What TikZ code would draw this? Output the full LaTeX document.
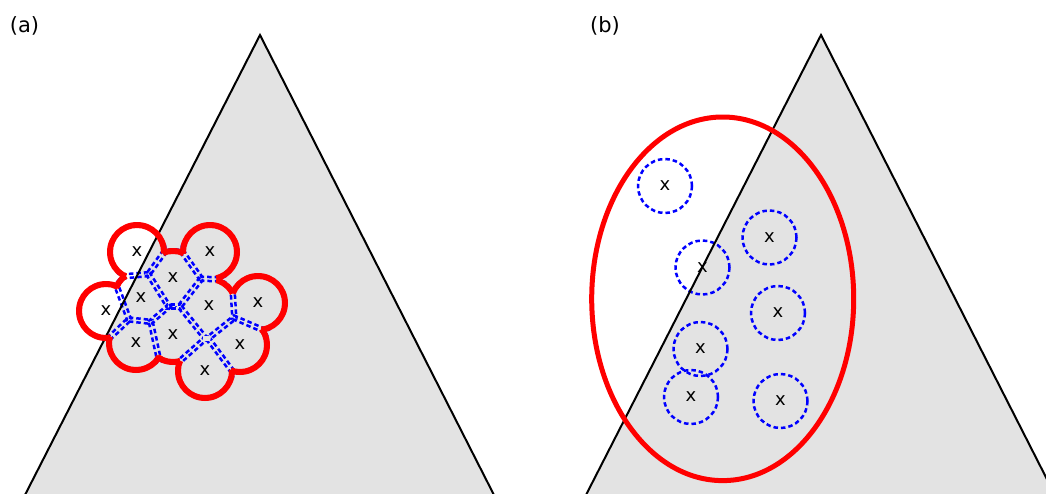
\documentclass[tikz,border=0pt]{standalone}
\usepackage{fontspec}
\setmainfont{DejaVu Sans}
\usetikzlibrary{calc}
\definecolor{trigray}{RGB}{227,227,227}
\definecolor{cblue}{RGB}{0,0,255}
\definecolor{cred}{RGB}{255,0,0}
\def\PX{{137,210,173,141,209,258,106,173,136,240,205}}
\def\PY{{252,252,278,298,306,303,311,335,343,345,371}}
\begin{document}
\begin{tikzpicture}[x=1pt,y=-1pt,
  tri/.style={fill=trigray},
  edge/.style={draw=black,line width=2pt,line join=miter},
  oval/.style={draw=cred,line width=5pt},
  ring/.style={draw=cblue,line width=2.5pt,dash pattern=on 4.5pt off 3pt},
  lab/.style={font=\fontsize{18}{21}\selectfont,inner sep=0pt},
  ttl/.style={font=\fontsize{21}{25}\selectfont,inner sep=0pt}]
\useasboundingbox (0,0) rectangle (1046,493);
\clip (0,0) rectangle (1046,493);
% triangles
\coordinate (A1) at (260,35);
\coordinate (L1) at (12.2,520);
\coordinate (R1) at (506.7,520);
\coordinate (A2) at (821,35);
\coordinate (L2) at (573.2,520);
\coordinate (R2) at (1067.7,520);
\fill[tri] (A1) -- (R1) -- (L1) -- cycle;
\fill[tri] (A2) -- (R2) -- (L2) -- cycle;
% points of panel (a)
\foreach \i in {1,...,11}{
  \pgfmathtruncatemacro\ii{\i-1}
  \pgfmathsetmacro\xx{\PX[\ii]}
  \pgfmathsetmacro\yy{\PY[\ii]}
  \coordinate (p\i) at (\xx,\yy);
}
% points of panel (b)
\coordinate (q1) at (665,186);
\coordinate (q2) at (702.5,267.5);
\coordinate (q3) at (769.5,237.5);
\coordinate (q4) at (778,313);
\coordinate (q5) at (700.5,349);
\coordinate (q6) at (691,397);
\coordinate (q7) at (780.5,401);
% panel (a): dashed cell borders (Voronoi cells inside the blob)
\foreach \i in {1,...,11}{
  \begin{scope}
    \clip (p\i) circle[radius=30pt];
    \foreach \k in {1,...,11}{
      \ifnum\k=\i\relax\else
        \coordinate (m) at ($(p\i)!0.5!(p\k)$);
        \coordinate (ha) at ($(m)!300pt!90:(p\i)$);
        \coordinate (hb) at ($(m)!300pt!-90:(p\i)$);
        \coordinate (he) at ($(m)!300pt!(p\i)$);
        \clip (ha) -- (hb) -- ($(hb)+(he)-(m)$) -- ($(ha)+(he)-(m)$) -- cycle;
      \fi
    }
    \foreach \j in {1,...,11}{
      \ifnum\j=\i\relax\else
        \coordinate (m0) at ($(p\i)!0.5!(p\j)$);
        \coordinate (m) at ($(m0)!2pt!(p\i)$);
        \draw[ring] ($(m)!100pt!90:(p\i)$) -- ($(m)!100pt!-90:(p\i)$);
      \fi
    }
  \end{scope}
}
% panel (b): dashed circles
\foreach \i in {1,...,7}{
  \draw[ring] (q\i) circle[radius=27pt];
}
% labels
\foreach \i in {1,...,11}{
  \node[lab] (xa\i) at (p\i) {x};
}
\foreach \i in {1,...,7}{
  \node[lab] (xb\i) at (q\i) {x};
}
% triangle edges
\draw[edge] (L1) -- (A1) -- (R1);
\draw[edge] (L2) -- (A2) -- (R2);
% red band round the blob of panel (a)
\begin{scope}[even odd rule]
  \foreach \i in {1,...,11}{
    \clip (-20,-20) rectangle (1100,600) (p\i) circle[radius=24pt];
  }
  \clip (-20,-20) rectangle (1100,600)
    (p1) -- (p3) -- (p2) -- (p5) -- (p6) -- (p10) -- (p11) -- (p8) -- (p9) -- (p7) -- (p4) -- cycle;
  \foreach \i in {1,...,10}{
    \pgfmathtruncatemacro\ip{\i+1}
    \foreach \j in {\ip,...,11}{
      \pgfmathtruncatemacro\ii{\i-1}
      \pgfmathtruncatemacro\jj{\j-1}
      \pgfmathsetmacro\xa{\PX[\ii]}
      \pgfmathsetmacro\ya{\PY[\ii]}
      \pgfmathsetmacro\xb{\PX[\jj]}
      \pgfmathsetmacro\yb{\PY[\jj]}
      \pgfmathsetmacro\dx{(\xb-\xa)/10}
      \pgfmathsetmacro\dy{(\yb-\ya)/10}
      \pgfmathsetmacro\dd{10*sqrt(\dx*\dx+\dy*\dy)}
      \pgfmathtruncatemacro\ok{\dd<58.3}
      \ifnum\ok=1
        \pgfmathsetmacro\hh{sqrt(900-\dd*\dd/4)-6}
        \pgfmathsetmacro\mx{(\xa+\xb)/2}
        \pgfmathsetmacro\my{(\ya+\yb)/2}
        \pgfmathsetmacro\vx{-1*(\dy)*10/\dd*\hh}
        \pgfmathsetmacro\vy{(\dx)*10/\dd*\hh}
        \pgfmathsetmacro\ax{\mx+\vx}
        \pgfmathsetmacro\ay{\my+\vy}
        \pgfmathsetmacro\bx{\mx-\vx}
        \pgfmathsetmacro\by{\my-\vy}
        \clip (-20,-20) rectangle (1100,600) (p\i) -- (\ax,\ay) -- (p\j) -- (\bx,\by) -- cycle;
      \fi
    }
  }
  \foreach \i in {1,...,11}{
    \fill[cred] (p\i) circle[radius=30pt];
  }
\end{scope}
% red ellipse of panel (b)
\draw[oval] (722.7,298.8) ellipse[x radius=131pt,y radius=181.8pt];
% titles
\node[ttl] (ta) at (24.5,25.5) {(a)};
\node[ttl] (tb) at (605,26) {(b)};
\end{tikzpicture}
\end{document}
